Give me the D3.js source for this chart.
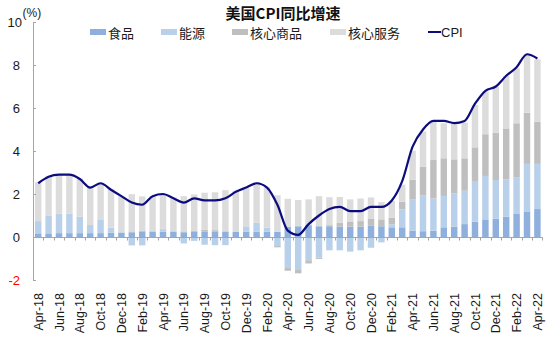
<!DOCTYPE html>
<html>
<head>
<meta charset="utf-8">
<script src="https://cdn.jsdelivr.net/npm/d3@7"></script>
<style>
html,body{margin:0;padding:0;background:#fff;}
svg{display:block;font-family:"Liberation Sans",Arial,"Noto Sans CJK SC",sans-serif;}
</style>
</head>
<body>
<svg id="chart" width="550" height="337"></svg>
<script>
const months = ["Apr-18","May-18","Jun-18","Jul-18","Aug-18","Sep-18","Oct-18","Nov-18","Dec-18",
"Jan-19","Feb-19","Mar-19","Apr-19","May-19","Jun-19","Jul-19","Aug-19","Sep-19","Oct-19","Nov-19","Dec-19",
"Jan-20","Feb-20","Mar-20","Apr-20","May-20","Jun-20","Jul-20","Aug-20","Sep-20","Oct-20","Nov-20","Dec-20",
"Jan-21","Feb-21","Mar-21","Apr-21","May-21","Jun-21","Jul-21","Aug-21","Sep-21","Oct-21","Nov-21","Dec-21",
"Jan-22","Feb-22","Mar-22","Apr-22"];

const food = [0.17,0.17,0.18,0.18,0.18,0.18,0.18,0.20,0.20,
0.22,0.26,0.24,0.24,0.25,0.22,0.24,0.26,0.26,0.25,0.25,0.24,
0.24,0.24,0.24,0.48,0.50,0.55,0.50,0.50,0.48,0.48,0.48,0.52,
0.50,0.45,0.45,0.30,0.27,0.29,0.45,0.48,0.60,0.71,0.82,0.85,
0.95,1.07,1.19,1.30];

const energy = [0.57,0.83,0.90,0.90,0.77,0.38,0.64,0.23,0.03,
-0.39,-0.39,0.02,0.12,-0.05,-0.30,-0.18,-0.36,-0.38,-0.38,-0.05,0.24,
0.42,0.20,-0.42,-1.41,-1.50,-1.08,-0.96,-0.62,-0.62,-0.68,-0.62,-0.50,
-0.25,0.14,0.84,1.46,1.67,1.51,1.46,1.55,1.55,1.86,2.02,1.80,
1.73,1.71,2.21,2.10];

const coreGoods = [-0.05,-0.05,-0.03,-0.03,-0.02,-0.05,-0.02,-0.02,0.00,
0.04,0.04,0.02,0.02,0.02,0.04,0.04,0.08,0.06,0.02,0.00,0.02,
-0.05,-0.02,-0.06,-0.16,-0.19,-0.15,-0.06,0.05,0.18,0.22,0.26,0.34,
0.32,0.31,0.35,0.90,1.32,1.78,1.75,1.58,1.51,1.60,1.94,2.20,
2.37,2.51,2.38,1.96];

const coreServices = [1.81,1.85,1.85,1.85,1.77,1.79,1.70,1.79,1.67,
1.73,1.59,1.62,1.62,1.58,1.64,1.70,1.72,1.76,1.91,1.90,1.80,
1.89,1.88,1.70,1.30,1.22,1.20,1.40,1.30,1.20,1.05,1.05,0.98,
0.80,0.78,0.80,1.35,1.65,1.78,1.63,1.68,1.66,1.97,1.99,2.15,
2.44,2.56,2.73,2.90];

const cpi = [2.5,2.8,2.9,2.9,2.7,2.3,2.5,2.2,1.9,
1.6,1.5,1.9,2.0,1.8,1.6,1.8,1.7,1.7,1.8,2.1,2.3,
2.5,2.3,1.5,0.3,0.1,0.6,1.0,1.3,1.4,1.2,1.2,1.4,
1.4,1.7,2.6,4.2,5.0,5.4,5.4,5.3,5.4,6.2,6.8,7.0,
7.5,7.9,8.5,8.3];

const seriesNames = ["食品","能源","核心商品","核心服务"];
const seriesKeys = ["food","energy","coreGoods","coreServices"];
const seriesColors = ["#8fb0dc","#b9d0ea","#bfbfbf","#dcdcdc"];
const yTicks = [-2,0,2,4,6,8,10];
const title = "美国CPI同比增速";
const unit = "(%)";

const rows = months.map((m,i)=>({month:m, food:food[i], energy:energy[i], coreGoods:coreGoods[i], coreServices:coreServices[i], cpi:cpi[i]}));

const svg = d3.select("#chart");
const pLeft = 33, pRight = 542.6, pTop = 22, pBottom = 280;

const x = d3.scaleBand().domain(months).range([pLeft, pRight]).paddingInner(0.38).paddingOuter(0.19);
const y = d3.scaleLinear().domain([-2,10]).range([pBottom, pTop]);

const stack = d3.stack().keys(seriesKeys).offset(d3.stackOffsetDiverging);
const stacked = stack(rows);

const gBars = svg.append("g");
stacked.forEach((layer, li) => {
  gBars.append("g").attr("fill", seriesColors[li])
    .selectAll("rect").data(layer).join("rect")
    .attr("x", d => x(d.data.month))
    .attr("width", x.bandwidth())
    .attr("y", d => y(Math.max(d[0], d[1])))
    .attr("height", d => Math.abs(y(d[0]) - y(d[1])));
});

// Y axis
const axisColor = "#a6a6a6";
svg.append("line").attr("x1", pLeft+0.5).attr("x2", pLeft+0.5).attr("y1", pTop).attr("y2", pBottom).attr("stroke", axisColor);
yTicks.forEach(t => {
  svg.append("line").attr("x1", pLeft).attr("x2", pLeft+3).attr("y1", Math.round(y(t))+0.5).attr("y2", Math.round(y(t))+0.5).attr("stroke", axisColor);
  svg.append("text").attr("x", t===10 ? 22 : 20).attr("y", y(t)+5)
    .attr("text-anchor","end").attr("font-size", 13)
    .attr("fill", t < 0 ? "#ff0000" : "#1a1a1a").text(t);
});
svg.append("text").attr("x", 22.5).attr("y", 17).attr("font-size", 12).attr("fill","#1a1a1a").text(unit);

// X axis at zero
const y0 = Math.round(y(0)) + 0.5;
svg.append("line").attr("x1", pLeft).attr("x2", pRight).attr("y1", y0).attr("y2", y0).attr("stroke", axisColor);
const step = x.step();
months.forEach((m,i) => {
  const xb = x(m) - (step - x.bandwidth())/2;
  svg.append("line").attr("x1", Math.round(xb)+0.5).attr("x2", Math.round(xb)+0.5).attr("y1", y0).attr("y2", y0+3).attr("stroke", axisColor);
});
svg.append("line").attr("x1", Math.round(pRight)-0.5).attr("x2", Math.round(pRight)-0.5).attr("y1", y0).attr("y2", y0+3).attr("stroke", axisColor);

// X labels
months.forEach((m,i) => {
  if (i % 2 !== 0) return;
  const cx = x(m) + x.bandwidth()/2 + 4.5;
  svg.append("text").attr("transform", `translate(${cx},293) rotate(-90)`)
    .attr("text-anchor","end").attr("font-size", 12.5).attr("fill","#1a1a1a").text(m);
});

// CPI line
const line = d3.line().x(d => x(d.month) + x.bandwidth()/2).y(d => y(d.cpi)).curve(d3.curveMonotoneX);
svg.append("path").datum(rows).attr("d", line).attr("fill","none").attr("stroke","#0c0c7e").attr("stroke-width",2.2).attr("stroke-linejoin","round");

// Title
svg.append("text").attr("x", 283).attr("y", 19).attr("text-anchor","middle")
  .attr("font-size", 15).attr("font-weight","bold").attr("fill","#111")
  .attr("font-family","'Noto Sans CJK SC','Liberation Sans',sans-serif").text(title);

// Legend
const legX = [90, 161, 232, 330];
const lg = svg.append("g").attr("font-size", 13).attr("fill","#1a1a1a").attr("font-family","'Noto Sans CJK SC','Liberation Sans',sans-serif");
seriesNames.forEach((n,i) => {
  lg.append("rect").attr("x", legX[i]).attr("y", 29).attr("width", 16).attr("height", 6).attr("fill", seriesColors[i]);
  lg.append("text").attr("x", legX[i]+18).attr("y", 37.5).text(n);
});
lg.append("line").attr("x1", 428).attr("x2", 441).attr("y1", 32).attr("y2", 32).attr("stroke","#0c0c7e").attr("stroke-width",2);
lg.append("text").attr("x", 441).attr("y", 37).attr("font-family","'Liberation Sans',Arial,sans-serif").text("CPI");
</script>
</body>
</html>
